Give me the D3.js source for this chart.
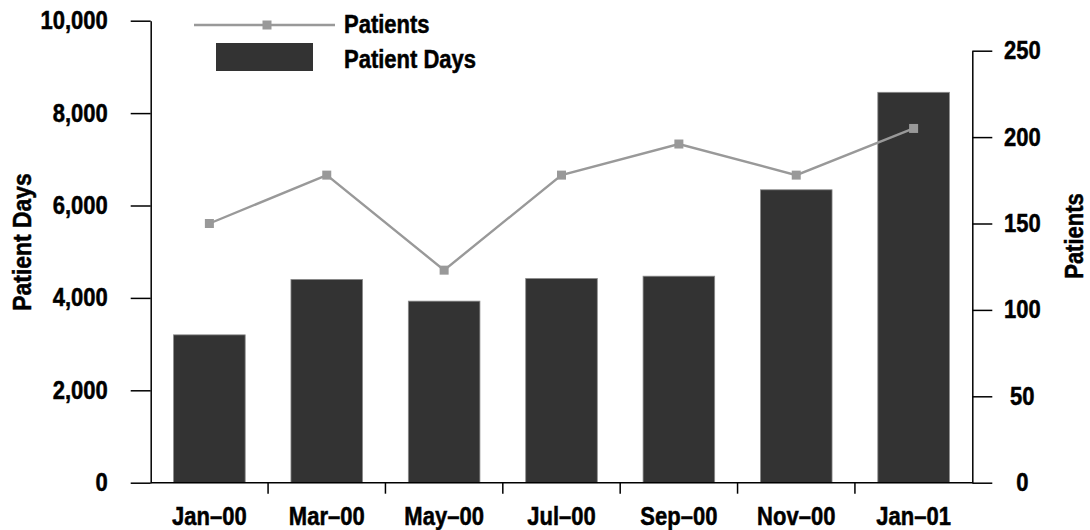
<!DOCTYPE html>
<html>
<head>
<meta charset="utf-8">
<script src="https://cdn.jsdelivr.net/npm/d3@7"></script>
<style>
  html, body { margin: 0; padding: 0; background: #fff; }
  svg text { font-family: "Liberation Sans", Arial, sans-serif; font-weight: bold; fill: #000; stroke: #000; stroke-width: 0.5px; }
</style>
</head>
<body>
<div id="chart"></div>
<script>
// data
const months = ['Jan–00', 'Mar–00', 'May–00', 'Jul–00', 'Sep–00', 'Nov–00', 'Jan–01']
const patientDays = [3200, 4400, 3930, 4420, 4470, 6340, 8450]
const patients = [150, 178, 123, 178, 196, 178, 205]
const leftTicks = [0, 2000, 4000, 6000, 8000, 10000]
const rightTicks = [0, 50, 100, 150, 200, 250]

const width = 1090
const height = 530
const plot = { left: 150.7, right: 972.3, top: 20.7, bottom: 482.7, topRight: 50.7 }
const fontSize = 25
const narrow = 0.88 // the original font is a condensed one

const barColor = '#333333'
const lineColor = '#999999'

// squeeze text horizontally to fake a condensed face
function squeeze(sel) {
  sel.each(function () {
    const len = this.getComputedTextLength()
    d3.select(this)
      .attr('textLength', len * narrow)
      .attr('lengthAdjust', 'spacingAndGlyphs')
  })
}

const svg = d3.select('#chart')
  .append('svg')
  .attr('width', width)
  .attr('height', height)

// scales
const x = d3.scaleBand()
  .domain(months)
  .range([plot.left, plot.right])
  .paddingInner(0.39)
  .paddingOuter(0.195)

const yLeft = d3.scaleLinear()
  .domain([0, 10000])
  .range([plot.bottom, plot.top])

const yRight = d3.scaleLinear()
  .domain([0, 250])
  .range([plot.bottom, plot.topRight])

// bars
svg.append('g')
  .selectAll('rect')
  .data(months)
  .join('rect')
  .attr('x', d => x(d))
  .attr('y', (d, i) => yLeft(patientDays[i]))
  .attr('width', x.bandwidth())
  .attr('height', (d, i) => plot.bottom - yLeft(patientDays[i]))
  .attr('fill', barColor)
  .attr('stroke', '#8a8a8a')
  .attr('stroke-width', 0.8)

// patients line
const line = d3.line()
  .x((d, i) => x(months[i]) + x.bandwidth() / 2)
  .y(d => yRight(d))

svg.append('path')
  .datum(patients)
  .attr('d', line)
  .attr('fill', 'none')
  .attr('stroke', lineColor)
  .attr('stroke-width', 2.4)

const mk = 9
svg.append('g')
  .selectAll('rect')
  .data(patients)
  .join('rect')
  .attr('x', (d, i) => x(months[i]) + x.bandwidth() / 2 - mk / 2)
  .attr('y', d => yRight(d) - mk / 2)
  .attr('width', mk)
  .attr('height', mk)
  .attr('fill', lineColor)

// left axis
const leftAxis = svg.append('g')
  .attr('transform', `translate(${plot.left},0)`)
  .call(d3.axisLeft(yLeft)
    .tickValues(leftTicks)
    .tickSize(20)
    .tickSizeOuter(0)
    .tickPadding(23)
    .tickFormat(d3.format(',')))
leftAxis.selectAll('path, line').attr('stroke', '#000').attr('stroke-width', 1.5)
leftAxis.selectAll('text').attr('font-size', fontSize).attr('font-family', null).call(squeeze)

// right axis
const rightAxis = svg.append('g')
  .attr('transform', `translate(${plot.right},0)`)
  .call(d3.axisRight(yRight)
    .tickValues(rightTicks)
    .tickSize(20)
    .tickSizeOuter(0))
rightAxis.selectAll('path, line').attr('stroke', '#000').attr('stroke-width', 1.5)
rightAxis.selectAll('text')
  .attr('x', 50)
  .attr('text-anchor', 'middle')
  .attr('font-size', fontSize)
  .attr('font-family', null)
  .call(squeeze)

// x axis: baseline, ticks between categories, labels
svg.append('line')
  .attr('x1', plot.left)
  .attr('x2', plot.right)
  .attr('y1', plot.bottom)
  .attr('y2', plot.bottom)
  .attr('stroke', '#000')
  .attr('stroke-width', 1.5)

const gap = (x.step() - x.bandwidth()) / 2
svg.append('g')
  .selectAll('line')
  .data(months.slice(1))
  .join('line')
  .attr('x1', d => x(d) - gap)
  .attr('x2', d => x(d) - gap)
  .attr('y1', plot.bottom)
  .attr('y2', plot.bottom + 11)
  .attr('stroke', '#000')
  .attr('stroke-width', 1.5)

svg.append('g')
  .selectAll('text')
  .data(months)
  .join('text')
  .attr('x', d => x(d) + x.bandwidth() / 2)
  .attr('y', 525)
  .attr('text-anchor', 'middle')
  .attr('font-size', fontSize)
  .text(d => d)
  .call(squeeze)

// axis titles
svg.append('text')
  .attr('transform', 'translate(31,242) rotate(-90)')
  .attr('text-anchor', 'middle')
  .attr('font-size', 26)
  .text('Patient Days')
  .call(squeeze)

svg.append('text')
  .attr('transform', 'translate(1083,236) rotate(-90)')
  .attr('text-anchor', 'middle')
  .attr('font-size', fontSize)
  .text('Patients')
  .call(squeeze)

// legend
const legend = svg.append('g')
legend.append('line')
  .attr('x1', 194).attr('x2', 335)
  .attr('y1', 25).attr('y2', 25)
  .attr('stroke', lineColor)
  .attr('stroke-width', 2.5)
legend.append('rect')
  .attr('x', 267 - mk / 2).attr('y', 25 - mk / 2)
  .attr('width', mk).attr('height', mk)
  .attr('fill', lineColor)
legend.append('text')
  .attr('x', 344).attr('y', 33)
  .attr('font-size', fontSize)
  .text('Patients')
  .call(squeeze)
legend.append('rect')
  .attr('x', 216).attr('y', 43)
  .attr('width', 97).attr('height', 28)
  .attr('fill', barColor)
legend.append('text')
  .attr('x', 344).attr('y', 68)
  .attr('font-size', fontSize)
  .text('Patient Days')
  .call(squeeze)
</script>
</body>
</html>
